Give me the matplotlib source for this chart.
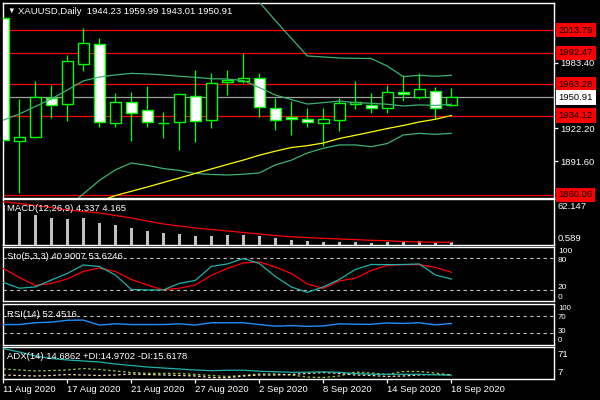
import matplotlib
matplotlib.use('Agg')
import matplotlib.pyplot as plt
import numpy as np

plt.rcParams['font.family'] = ['Liberation Sans', 'DejaVu Sans']

# ---- data (29 daily bars, 11 Aug .. 18 Sep 2020) ----
tick_idx = [0, 4, 8, 12, 16, 20, 24, 28]
tick_labels = ['11 Aug 2020', '17 Aug 2020', '21 Aug 2020', '27 Aug 2020',
               '2 Sep 2020', '8 Sep 2020', '14 Sep 2020', '18 Sep 2020']

opens = [2024.7, 1910.4, 1913.8, 1950.7, 1944.6, 1981.8, 2000.5, 1926.9, 1946.4, 1939.0,
         1927.0, 1927.8, 1952.0, 1929.7, 1965.1, 1966.3, 1968.8, 1940.8, 1932.4, 1930.6,
         1926.9, 1929.7, 1945.1, 1943.6, 1940.8, 1955.8, 1951.6, 1956.7, 1944.23]
highs = [2029.4, 1949.5, 1966.3, 1962.5, 1990.5, 2015.6, 2006.0, 1955.1, 1956.0, 1961.6,
         1937.1, 1954.8, 1976.5, 1973.7, 1976.5, 1992.1, 1973.7, 1950.7, 1947.6, 1941.4,
         1941.4, 1950.7, 1966.3, 1955.1, 1962.5, 1971.9, 1973.7, 1960.4, 1959.99]
lows = [1900.4, 1862.2, 1912.9, 1932.1, 1929.3, 1975.9, 1923.7, 1923.7, 1910.6, 1923.7,
        1913.5, 1902.3, 1909.7, 1922.8, 1953.2, 1964.1, 1932.5, 1920.9, 1916.2, 1923.7,
        1906.0, 1920.0, 1940.5, 1936.7, 1936.7, 1947.9, 1949.8, 1931.2, 1943.01]
closes = [1911.3, 1914.4, 1951.1, 1943.6, 1984.6, 2001.4, 1927.8, 1946.4, 1936.7, 1927.8,
          1926.9, 1953.9, 1928.7, 1964.1, 1967.2, 1968.8, 1941.8, 1929.7, 1930.6, 1927.8,
          1930.6, 1945.5, 1947.0, 1940.8, 1955.8, 1953.9, 1958.5, 1940.8, 1950.91]

bb_upper = [2085, 2076, 2070, 2069, 2067, 2072, 2066, 2060, 2057, 2058,
            2059, 2058.5, 2059.3, 2057.6, 2057.5, 2054, 2039.8, 2022.6, 2006.1, 1989.6,
            1988.7, 1987.7, 1987.4, 1987.2, 1980.2, 1970.3, 1971.6, 1970.7, 1971.6]
bb_mid = [1929.9, 1935.5, 1942.5, 1949.5, 1957.9, 1966.3, 1970.0, 1971.9, 1973.4, 1972.8,
          1971.9, 1970.7, 1969.7, 1968.4, 1968.1, 1966.7, 1960.2, 1953.2, 1949.0, 1944.8,
          1946.1, 1947.6, 1946.1, 1945.5, 1944.6, 1943.0, 1944.0, 1943.5, 1944.6]
bb_lower = [1775, 1795, 1815, 1830, 1849, 1861.0, 1873.6, 1883.4, 1889.9, 1887.7,
            1884.7, 1882.9, 1880.1, 1879.2, 1878.7, 1879.4, 1880.6, 1888.1, 1892.5, 1899.2,
            1903.6, 1906.7, 1906.7, 1905.1, 1908.0, 1916.0, 1917.5, 1916.6, 1917.5]
ma_slow = [1830, 1834, 1838, 1842, 1846, 1850, 1854.1, 1859.5, 1863.5, 1867.5,
           1871.7, 1875.9, 1880.2, 1884.3, 1888.5, 1892.6, 1897.1, 1900.9, 1904.3, 1906.0,
           1908.5, 1912.7, 1915.7, 1918.8, 1922.0, 1924.8, 1928.1, 1930.6, 1934.1]

levels = [2013.79, 1992.47, 1963.28, 1934.12, 1860.06]
last_price = 1950.91
price_ticks = [1983.40, 1922.20, 1891.60]

macd_hist = [54.5, 45.5, 41.0, 37.4, 35.6, 37.4, 30.6, 27.5, 23.5, 19.5,
             16.8, 15.4, 12.7, 13.1, 14.5, 14.1, 12.7, 10.4, 7.7, 6.0,
             4.6, 4.6, 4.6, 3.3, 4.6, 4.6, 6.0, 3.3, 4.337]
macd_signal = [59.0, 56.5, 53.8, 51.1, 47.8, 45.7, 43.7, 40.4, 37.0, 32.9,
               28.9, 26.2, 23.5, 21.5, 19.5, 17.4, 15.4, 13.4, 11.7, 10.6,
               9.6, 8.7, 7.9, 6.9, 6.3, 5.3, 4.6, 4.4, 4.165]

sto_k = [34.6, 23.8, 26.2, 39.2, 51.3, 67.1, 64.3, 48.5, 21.6, 20.6,
         20.6, 32.7, 38.3, 64.3, 69.0, 79.2, 69.9, 45.7, 26.2, 16.0,
         26.2, 40.1, 58.7, 68.0, 67.7, 68.0, 69.0, 48.5, 40.90]
sto_d = [60.6, 43.9, 29.0, 32.7, 41.1, 55.0, 61.5, 55.0, 40.1, 29.9,
         20.6, 23.8, 29.9, 47.6, 60.6, 70.8, 72.7, 63.4, 51.3, 31.8,
         23.4, 37.4, 42.4, 56.9, 66.2, 67.7, 67.7, 62.5, 53.62]

rsi = [49.9, 49.9, 54.3, 55.8, 60.3, 60.8, 48.6, 51.7, 49.9, 49.9,
       49.9, 51.7, 48.6, 54.3, 54.3, 54.3, 49.9, 46.0, 47.3, 45.5,
       46.5, 51.7, 50.6, 50.6, 53.8, 52.5, 54.3, 49.1, 52.45]

adx = [68.6, 61.5, 53.5, 48.4, 45.4, 43.4, 41.3, 37.3, 34.3, 31.2,
       29.2, 27.2, 25.2, 23.8, 24.6, 24.8, 22.6, 21.7, 20.5, 20.7,
       21.5, 20.5, 18.1, 16.5, 16.5, 16.5, 16.5, 15.5, 14.69]
plus_di = [27.2, 25.2, 23.2, 24.2, 25.2, 28.2, 26.2, 23.2, 20.1, 18.5,
           18.5, 18.1, 16.1, 14.1, 12.1, 14.1, 17.1, 17.1, 15.1, 11.0,
           10.0, 13.1, 21.1, 19.1, 16.1, 22.2, 22.2, 19.1, 14.97]
minus_di = [15.1, 14.1, 13.1, 14.1, 16.1, 15.1, 14.1, 15.1, 17.1, 16.1,
            15.1, 14.1, 13.1, 10.0, 9.6, 13.1, 15.1, 15.1, 16.1, 18.1,
            20.1, 18.1, 15.1, 14.1, 12.1, 13.1, 15.1, 16.1, 15.62]

# ---- layout (pixel coords of the MT4 window) ----
W, H = 600, 400
LEFT, RIGHT = 2.7, 554.3
FS = 6.8
x = np.arange(len(closes))
xlim = ((LEFT - 3.3) / 16, (RIGHT - 3.3) / 16)

fig = plt.figure(figsize=(6, 4), dpi=100, facecolor='black')


def panel(top, bottom):
    ax = fig.add_axes([LEFT / W, 1 - bottom / H, (RIGHT - LEFT) / W, (bottom - top) / H])
    ax.set_facecolor('black')
    for s in ax.spines.values():
        s.set_color('white')
        s.set_linewidth(1.0)
    ax.set_xlim(*xlim)
    ax.set_xticks([])
    ax.set_yticks([])
    return ax


def side_label(ax, frac, txt, size=FS):
    ax.text(1.0065, frac, txt, transform=ax.transAxes, color='white', fontsize=size,
            va='center', ha='left')


# ---- main price panel ----
ax = panel(2.7, 197.7)
ax.set_ylim(1857.54, 2039.23)

for lv in levels:
    ax.axhline(lv, color='#FF0000', lw=0.9, zorder=1)
ax.axhline(last_price, color='#A0A0A0', lw=0.9, zorder=1)

ax.vlines(x, lows, highs, color='#00FF00', lw=0.9, zorder=2)
for i in range(len(closes)):
    o, c = opens[i], closes[i]
    fill = 'black' if c >= o else 'white'
    ax.bar(x[i], max(abs(c - o), 0.15), bottom=min(o, c), width=0.66,
           color=fill, edgecolor='#00FF00', linewidth=1.0, zorder=3)

ax.plot(x, bb_upper, color='#3CB371', lw=0.9, zorder=4)
ax.plot(x, bb_mid, color='#3CB371', lw=0.9, zorder=4)
ax.plot(x, bb_lower, color='#3CB371', lw=0.9, zorder=4)
ax.plot(x, ma_slow, color='#FFFF00', lw=0.9, zorder=4)

ax.yaxis.tick_right()
ax.set_yticks(price_ticks)
ax.set_yticklabels(['%.2f' % p for p in price_ticks])
ax.tick_params(axis='y', colors='white', labelcolor='white', length=3, width=0.9,
               pad=1.5, labelsize=FS)

ytr = ax.get_yaxis_transform()
for lv in levels:
    ax.text(1.0075, lv, '%.2f' % lv, transform=ytr, color='black', fontsize=FS,
            va='center', ha='left',
            bbox=dict(boxstyle='square,pad=0.3', fc='#FF0000', ec='none'))
ax.text(1.0075, last_price, '%.2f' % last_price, transform=ytr, color='black',
        fontsize=FS, va='center', ha='left',
        bbox=dict(boxstyle='square,pad=0.3', fc='white', ec='none'))

ax.text(0.008, 0.957, '\u25bc', transform=ax.transAxes, color='white', fontsize=5.5,
        va='center', ha='left', zorder=6)
ax.text(0.0277, 0.957, 'XAUUSD,Daily  1944.23 1959.99 1943.01 1950.91',
        transform=ax.transAxes, color='white', fontsize=FS, va='center', ha='left',
        zorder=6)

# ---- MACD ----
ax = panel(199.3, 245.0)
ax.set_ylim(0.589, 62.147)
ax.bar(x, macd_hist, width=0.2, color='#C0C0C0', zorder=2)
ax.plot(x, macd_signal, color='#FF0000', lw=0.9, zorder=3)
ax.text(0.0083, 0.79, 'MACD(12,26,9) 4.337 4.165', transform=ax.transAxes,
        color='white', fontsize=FS, va='center', ha='left', zorder=5)
side_label(ax, 0.838, '62.147')
side_label(ax, 0.147, '0.589')

# ---- Stochastic ----
ax = panel(247.3, 301.0)
ax.set_ylim(0, 100)
for lv in (80, 20):
    ax.axhline(lv, color='#C0C0C0', lw=0.8, ls=(0, (3, 3)), zorder=1)
ax.plot(x, sto_d, color='#FF0000', lw=0.9, zorder=3)
ax.plot(x, sto_k, color='#20B2AA', lw=0.9, zorder=3)
ax.text(0.0083, 0.825, 'Sto(5,3,3) 40.9007 53.6246', transform=ax.transAxes,
        color='white', fontsize=FS, va='center', ha='left', zorder=5)
side_label(ax, 0.93, '100', 6.0)
side_label(ax, 0.75, '80', 6.0)
side_label(ax, 0.25, '20', 6.0)
side_label(ax, 0.07, '0', 6.0)

# ---- RSI ----
ax = panel(304.0, 345.0)
ax.set_ylim(0, 100)
for lv in (70, 30):
    ax.axhline(lv, color='#C0C0C0', lw=0.8, ls=(0, (3, 3)), zorder=1)
ax.plot(x, rsi, color='#1E90FF', lw=1.0, zorder=3)
ax.text(0.0083, 0.756, 'RSI(14) 52.4516', transform=ax.transAxes,
        color='white', fontsize=FS, va='center', ha='left', zorder=5)
side_label(ax, 0.90, '100', 5.6)
side_label(ax, 0.68, '70', 5.6)
side_label(ax, 0.32, '30', 5.6)
side_label(ax, 0.10, '0', 5.6)

# ---- ADX ----
ax = panel(347.3, 379.0)
ax.set_ylim(7, 71)
ax.plot(x, plus_di, color='#9ACD32', lw=0.9, ls=(0, (2, 2)), zorder=2)
ax.plot(x, minus_di, color='#F5DEB3', lw=0.9, ls=(0, (2, 2)), zorder=2)
ax.plot(x, adx, color='#20B2AA', lw=0.9, zorder=3)
ax.text(0.0083, 0.703, 'ADX(14) 14.6862 +DI:14.9702 -DI:15.6178', transform=ax.transAxes,
        color='white', fontsize=FS, va='center', ha='left', zorder=5)
side_label(ax, 0.78, '71')
side_label(ax, 0.21, '7')

ax.set_xticks(tick_idx)
ax.set_xticklabels(tick_labels, ha='left')
ax.tick_params(axis='x', colors='white', labelcolor='white', length=3, width=0.9,
               pad=1.5, labelsize=FS, direction='out')

fig.savefig('out.png', dpi=100, facecolor='black')
